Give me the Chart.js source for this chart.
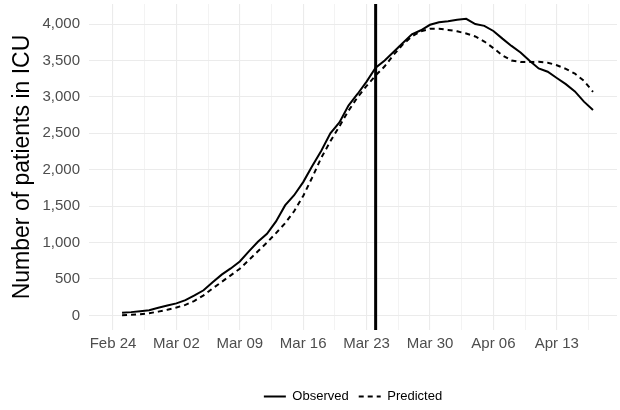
<!DOCTYPE html>
<html lang="en">
<head>
    <meta charset="UTF-8">
    <title>Patients in ICU</title>
    <style>
        html, body {
            margin: 0;
            padding: 0;
            background: #ffffff;
        }
        .chart-box {
            width: 620px;
            height: 410px;
        }
    </style>
    <script src="https://cdn.jsdelivr.net/npm/chart.js"></script>
</head>
<body>
    <div class="chart-box">
        <canvas id="icuChart"></canvas>
    </div>
    <script>
        // dates of the daily values (2020)
        const dates = [
            '2020-02-25', '2020-02-26', '2020-02-27', '2020-02-28', '2020-02-29',
            '2020-03-01', '2020-03-02', '2020-03-03', '2020-03-04', '2020-03-05',
            '2020-03-06', '2020-03-07', '2020-03-08', '2020-03-09', '2020-03-10',
            '2020-03-11', '2020-03-12', '2020-03-13', '2020-03-14', '2020-03-15',
            '2020-03-16', '2020-03-17', '2020-03-18', '2020-03-19', '2020-03-20',
            '2020-03-21', '2020-03-22', '2020-03-23', '2020-03-24', '2020-03-25',
            '2020-03-26', '2020-03-27', '2020-03-28', '2020-03-29', '2020-03-30',
            '2020-03-31', '2020-04-01', '2020-04-02', '2020-04-03', '2020-04-04',
            '2020-04-05', '2020-04-06', '2020-04-07', '2020-04-08', '2020-04-09',
            '2020-04-10', '2020-04-11', '2020-04-12', '2020-04-13', '2020-04-14',
            '2020-04-15', '2020-04-16', '2020-04-17'
        ];

        const observed = [
            35, 45, 58, 72, 105, 135, 165, 210, 275, 345,
            455, 560, 645, 740, 880, 1010, 1120, 1290, 1510, 1650,
            1830, 2050, 2260, 2500, 2650, 2880, 3040, 3210, 3400, 3500,
            3620, 3740, 3860, 3915, 3990, 4025, 4040, 4060, 4072, 4000,
            3975, 3905, 3800, 3700, 3610, 3495, 3390, 3345, 3260, 3175,
            3075, 2935, 2820
        ];

        const predicted = [
            3, 8, 16, 30, 52, 78, 108, 145, 200, 276,
            370, 460, 550, 640, 760, 880, 1000, 1130, 1265, 1430,
            1640, 1895, 2165, 2390, 2595, 2810, 2995, 3150, 3295, 3420,
            3580, 3720, 3830, 3900, 3935, 3935, 3920, 3900, 3870, 3830,
            3760, 3670, 3570, 3500, 3480, 3478, 3482, 3470, 3435, 3385,
            3320, 3220, 3070
        ];

        const seriesNames = ['Observed', 'Predicted'];

        // x axis: first tick date and tick labels, one per week
        const firstTickDate = '2020-02-24';
        const xTickLabels = ['Feb 24', 'Mar 02', 'Mar 09', 'Mar 16', 'Mar 23', 'Mar 30', 'Apr 06', 'Apr 13'];
        const yTickValues = [0, 500, 1000, 1500, 2000, 2500, 3000, 3500, 4000];
        const cutoffDate = '2020-03-24';

        const DAY = 24 * 3600 * 1000;
        const dayOf = (d) => (Date.parse(d) - Date.parse(firstTickDate)) / DAY;

        const xs = dates.map(dayOf);
        const toPoints = (vals) => vals.map((v, i) => ({ x: xs[i], y: v }));

        // ggplot-style 5% expansion of the data range
        const allX = xs.concat([0]);
        const xMin0 = Math.min(...allX), xMax0 = Math.max(...allX);
        const xPad = (xMax0 - xMin0) * 0.05;
        const allY = observed.concat(predicted);
        const yMin0 = Math.min(...allY), yMax0 = Math.max(...allY);
        const yPad = (yMax0 - yMin0) * 0.05;

        const majorX = xTickLabels.map((_, i) => i * 7);
        const gridX = [];
        majorX.forEach(v => { gridX.push(v); gridX.push(v + 3.5); });
        const gridY = [];
        yTickValues.forEach(v => { gridY.push(v); gridY.push(v + 250); });

        const gridColor = '#EBEBEB';
        const tickColor = '#4D4D4D';
        const fontFamily = '"Liberation Sans", Arial, sans-serif';

        const cutoffLine = {
            id: 'cutoffLine',
            afterDatasetsDraw(chart) {
                const { ctx, chartArea, scales } = chart;
                const x = scales.x.getPixelForValue(dayOf(cutoffDate));
                ctx.save();
                ctx.strokeStyle = '#000000';
                ctx.lineWidth = 3;
                ctx.beginPath();
                ctx.moveTo(x, chartArea.top);
                ctx.lineTo(x, chartArea.bottom);
                ctx.stroke();
                ctx.restore();
            }
        };

        new Chart(document.getElementById('icuChart'), {
            type: 'line',
            data: {
                datasets: [
                    {
                        label: seriesNames[0],
                        data: toPoints(observed),
                        borderColor: '#000000',
                        borderWidth: 2,
                        pointRadius: 0,
                        tension: 0,
                        fill: false
                    },
                    {
                        label: seriesNames[1],
                        data: toPoints(predicted),
                        borderColor: '#000000',
                        borderWidth: 2,
                        borderDash: [5, 4],
                        pointRadius: 0,
                        tension: 0,
                        fill: false
                    }
                ]
            },
            options: {
                responsive: true,
                maintainAspectRatio: false,
                animation: false,
                layout: { padding: { top: 4, right: 3, left: 0, bottom: -3 } },
                plugins: {
                    tooltip: { enabled: false },
                    legend: {
                        position: 'bottom',
                        fullSize: false,
                        labels: {
                            usePointStyle: true,
                            pointStyleWidth: 22,
                            padding: 10,
                            color: '#000000',
                            font: { family: fontFamily, size: 13 },
                            generateLabels: (chart) => chart.data.datasets.map((ds, i) => ({
                                text: ds.label,
                                datasetIndex: i,
                                fillStyle: 'rgba(0,0,0,0)',
                                strokeStyle: '#000000',
                                lineWidth: 2,
                                lineDash: ds.borderDash || [],
                                pointStyle: 'line',
                                fontColor: '#000000'
                            }))
                        }
                    }
                },
                scales: {
                    x: {
                        type: 'linear',
                        min: xMin0 - xPad,
                        max: xMax0 + xPad,
                        border: { display: false },
                        grid: {
                            color: gridColor,
                            drawTicks: false,
                            lineWidth: (c) => (c.tick && c.tick.value % 7 === 0) ? 1.1 : 0.6
                        },
                        afterBuildTicks: (scale) => {
                            scale.ticks = gridX.map(v => ({ value: v }));
                        },
                        afterFit: (scale) => {
                            scale.height = 50;
                            scale.paddingLeft = 0;
                            scale.paddingRight = 0;
                        },
                        ticks: {
                            autoSkip: false,
                            maxRotation: 0,
                            padding: 5,
                            color: tickColor,
                            font: { family: fontFamily, size: 15 },
                            callback: (v) => v % 7 === 0 ? xTickLabels[v / 7] : ''
                        }
                    },
                    y: {
                        min: yMin0 - yPad,
                        max: yMax0 + yPad,
                        border: { display: false },
                        grid: {
                            color: gridColor,
                            drawTicks: false,
                            lineWidth: (c) => (c.tick && c.tick.value % 500 === 0) ? 1.1 : 0.6
                        },
                        afterBuildTicks: (scale) => {
                            scale.ticks = gridY.filter(v => v <= yMax0 + yPad).map(v => ({ value: v }));
                        },
                        afterFit: (scale) => {
                            scale.width = 89;
                            scale.paddingTop = 0;
                            scale.paddingBottom = 0;
                        },
                        title: {
                            display: true,
                            text: 'Number of patients in ICU',
                            color: '#000000',
                            padding: { top: 9, bottom: 0 },
                            font: { family: fontFamily, size: 23 }
                        },
                        ticks: {
                            padding: 9,
                            color: tickColor,
                            font: { family: fontFamily, size: 15 },
                            callback: (v) => v % 500 === 0 ? v.toLocaleString('en-US') : ''
                        }
                    }
                }
            },
            plugins: [cutoffLine]
        });
    </script>
</body>
</html>
